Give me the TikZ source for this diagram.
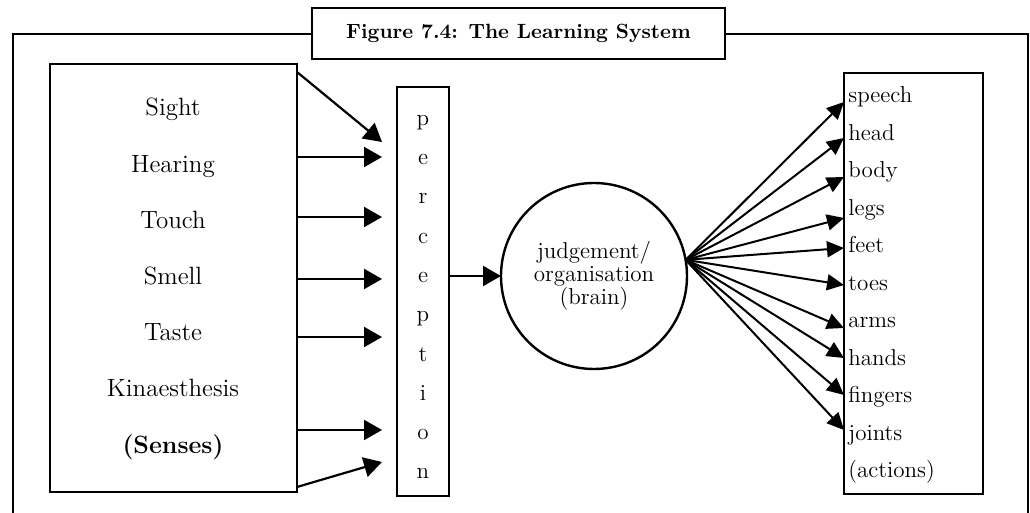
\documentclass[tikz,border=0pt]{standalone}
\usetikzlibrary{arrows.meta}
\begin{document}
\begin{tikzpicture}[x=0.5pt,y=-0.5pt,
    box/.style={draw,line width=1.2pt,inner sep=0pt,outer sep=0pt},
    arr/.style={line width=1.1pt,-{Triangle[length=9pt,width=10pt]}},
    fan/.style={line width=1pt,-{Triangle[length=8.5pt,width=8pt]}},
    sense/.style={anchor=base,inner sep=0pt,font=\fontsize{12.5}{15}\selectfont},
    letter/.style={anchor=base,inner sep=0pt,font=\fontsize{11.5}{14}\selectfont},
    act/.style={anchor=base west,inner sep=0pt,font=\fontsize{11.5}{14}\selectfont}]
    \useasboundingbox (0,0) rectangle (1030,513);
    \draw[line width=1.2pt] (13,513) -- (13,34) -- (1028,34) -- (1028,513);
    \node[box,fill=white,minimum width=206.5pt,minimum height=25.5pt,
        font=\bfseries\fontsize{10.3}{12}\selectfont] (title) at (518.5,33.5) {Figure 7.4: The Learning System};

    \node[box,minimum width=123.5pt,minimum height=214pt] (senses) at (173.5,278) {};
    \foreach \t [count=\i] in {Sight,Hearing,Touch,Smell,Taste,Kinaesthesis,{\textbf{(Senses)}}}
        \node[sense] (s\i) at (173,{59.8+56.2*\i}) {\t};

    \node[box,minimum width=26pt,minimum height=204.5pt] (perc) at (423,291.5) {};
    \foreach \l [count=\i] in {p,e,r,c,e,p,t,i,o,n}
        \node[letter] (p\i) at (423,{86+39.3*\i}) {\l};

    \foreach \ya/\yb [count=\i] in {72/142,157/157,217/217,279/279,337/337,430/430,487/462}{
        \coordinate (in\i) at (382,\yb);
        \draw[arr] (senses.east |- 0,\ya) -- (in\i);
    }

    \node[box,circle,minimum size=93pt,align=center,
        font=\fontsize{11.5}{11.5}\selectfont] (brain) at (594,276) {judgement/\\organisation\\(brain)};
    \draw[arr] (perc.east |- brain.west) -- (brain.west);

    \node[box,minimum width=69.5pt,minimum height=210.5pt] (acts) at (913.5,283.5) {};
    \foreach \t [count=\i] in {speech,head,body,legs,feet,toes,arms,hands,fingers,joints,(actions)}
        \node[act] (a\i) at (848,{65.5+37.5*\i}) {\t};

    \foreach \yt in {102,138,177,218,248,285,328,358,395,430}
        \draw[fan] (brain.10) -- (acts.west |- 0,\yt);
\end{tikzpicture}
\end{document}
